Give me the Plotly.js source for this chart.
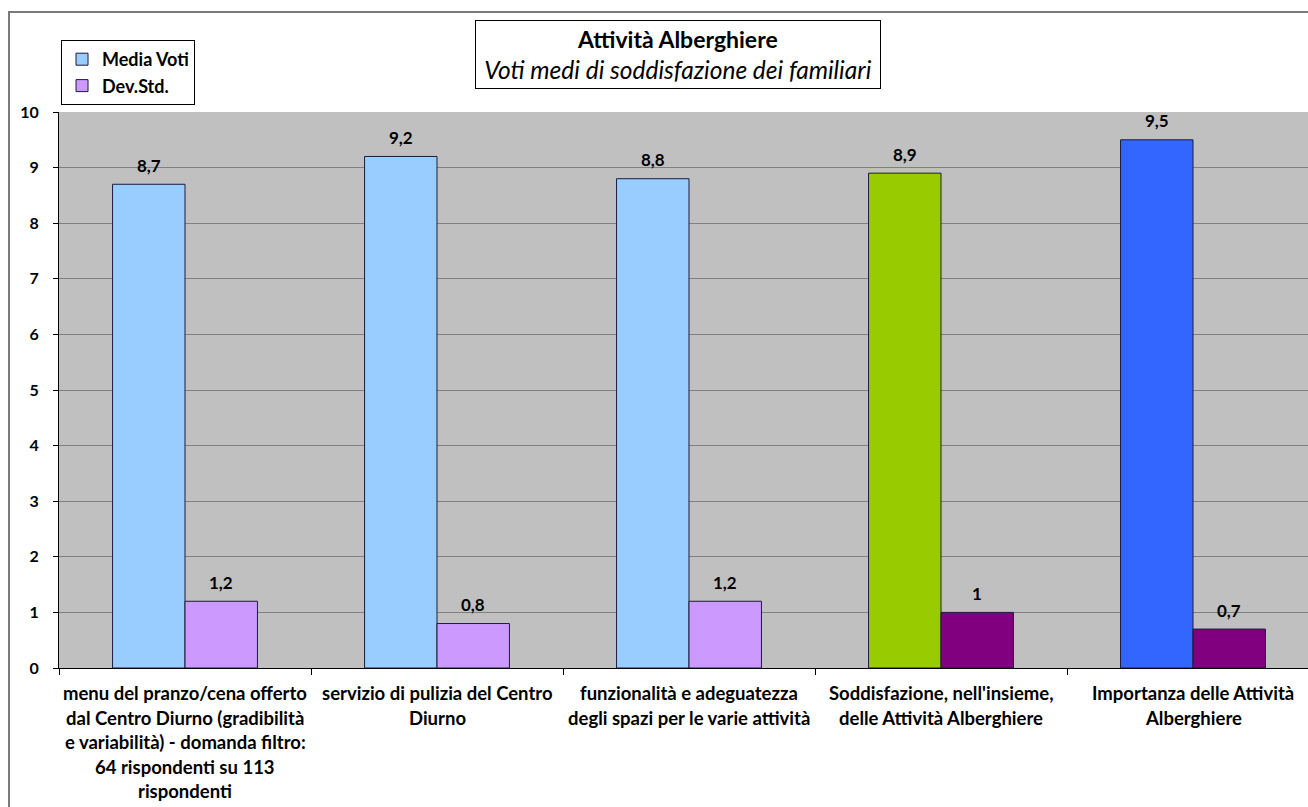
<!DOCTYPE html>
<html>
<head>
<meta charset="utf-8">
<script src="https://cdn.plot.ly/plotly-3.0.1.min.js"></script>
<style>
  html, body { margin: 0; padding: 0; background: #ffffff; overflow: hidden; }
  #wrap { position: relative; width: 1308px; height: 807px; overflow: hidden; }
  #chart { position: absolute; left: 0; top: 0; }
  #frame {
    position: absolute; left: 8px; top: 11px; width: 1400px; height: 900px;
    border: 2px solid #7a7a7a; pointer-events: none; box-sizing: border-box;
  }
</style>
</head>
<body>
<div id="wrap">
  <div id="chart"></div>
  <div id="frame"></div>
</div>
<script>
// Categories (x axis) and their wrapped label lines
const categories = [
  "menu del pranzo/cena offerto dal Centro Diurno",
  "servizio di pulizia del Centro Diurno",
  "funzionalità e adeguatezza degli spazi",
  "Soddisfazione, nell'insieme",
  "Importanza delle Attività Alberghiere"
];
const categoryLines = [
  ["menu del pranzo/cena offerto", "dal Centro Diurno (gradibilità", "e variabilità) - domanda filtro:", "64 rispondenti su 113", "rispondenti"],
  ["servizio di pulizia del Centro", "Diurno"],
  ["funzionalità e adeguatezza", "degli spazi per le varie attività"],
  ["Soddisfazione, nell'insieme,", "delle Attività Alberghiere"],
  ["Importanza delle Attività", "Alberghiere"]
];

// Series values
const mediaVoti = [8.7, 9.2, 8.8, 8.9, 9.5];
const devStd = [1.2, 0.8, 1.2, 1.0, 0.7];

// Per-bar fill colours
const mediaColors = ["#99CCFF", "#99CCFF", "#99CCFF", "#99CC00", "#3366FF"];
const devColors = ["#CC99FF", "#CC99FF", "#CC99FF", "#800080", "#800080"];

const yTicks = [0, 1, 2, 3, 4, 5, 6, 7, 8, 9, 10];

const FONT = "Lato, 'Open Sans', sans-serif";
const outline = { color: "#1c1c3a", width: 1 };

const traces = [
  {
    type: "bar", name: "Media Voti", x: categories, y: mediaVoti,
    marker: { color: mediaColors, line: outline },
    legendgroup: "a", hoverinfo: "none"
  },
  {
    type: "bar", name: "Dev.Std.", x: categories, y: devStd,
    marker: { color: devColors, line: outline },
    legendgroup: "b", hoverinfo: "none"
  }
];

const fmt = v => String(v).replace(".", ",");
const annotations = [];

// Value labels above each bar of the two groups
[[mediaVoti, -36], [devStd, 36]].forEach(([vals, dx]) => {
  vals.forEach((v, i) => {
    annotations.push({
      x: categories[i], y: v, xref: "x", yref: "y",
      text: "<b>" + fmt(v) + "</b>", showarrow: false,
      xanchor: "center", yanchor: "middle",
      xshift: dx, yshift: 19,
      font: { family: FONT, size: 17, color: "#000" }
    });
  });
});

// Multi-line category labels under the axis
categoryLines.forEach((lines, ci) => {
  lines.forEach((ln, li) => {
    annotations.push({
      x: categories[ci], y: 0, xref: "x", yref: "y",
      text: "<b>" + ln + "</b>", showarrow: false,
      xanchor: "center", yanchor: "middle",
      yshift: -25 - li * 24.5,
      font: { family: FONT, size: 18.5, color: "#000" }
    });
  });
});

// Boxed title
annotations.push({
  xref: "paper", yref: "paper", x: 0.4913, y: 1.1655,
  xanchor: "center", yanchor: "top",
  text: "<span style='font-size:23px'><b>Attività Alberghiere</b></span><br><i>Voti medi di soddisfazione dei familiari</i>",
  showarrow: false, align: "center", valign: "middle",
  bordercolor: "#000", borderwidth: 1, bgcolor: "#fff", borderpad: 1,
  width: 402, height: 65,
  font: { family: FONT, size: 24.5, color: "#000" }
});

const layout = {
  width: 1319, height: 807,
  margin: { l: 59, r: 0, t: 112, b: 139 },
  paper_bgcolor: "#ffffff",
  plot_bgcolor: "#C0C0C0",
  barmode: "group",
  bargap: 0.425,
  bargroupgap: 0,
  showlegend: true,
  legend: {
    x: 0.0016, y: 1.1295, xanchor: "left", yanchor: "top",
    bgcolor: "#fff", bordercolor: "#000", borderwidth: 1,
    font: { family: FONT, size: 18, color: "#000", weight: "bold" },
    tracegroupgap: 6, traceorder: "normal"
  },
  xaxis: {
    type: "category",
    showticklabels: false,
    tickson: "boundaries",
    ticks: "outside", ticklen: 6, tickcolor: "#000", tickwidth: 1,
    showline: true, linecolor: "#000", linewidth: 1,
    showgrid: false, zeroline: false,
    range: [-0.5, 4.5]
  },
  yaxis: {
    range: [0, 10],
    tickvals: yTicks,
    ticktext: yTicks.map(String),
    ticks: "outside", ticklen: 5, tickcolor: "#000", tickwidth: 1,
    ticklabelstandoff: 11,
    showline: true, linecolor: "#000", linewidth: 1,
    showgrid: true, gridcolor: "#808080", gridwidth: 1,
    zeroline: false,
    tickfont: { family: FONT, size: 16, color: "#000", weight: "bold" }
  },
  annotations: annotations
};

Plotly.newPlot("chart", traces, layout, { displayModeBar: false, staticPlot: true });
</script>
</body>
</html>
